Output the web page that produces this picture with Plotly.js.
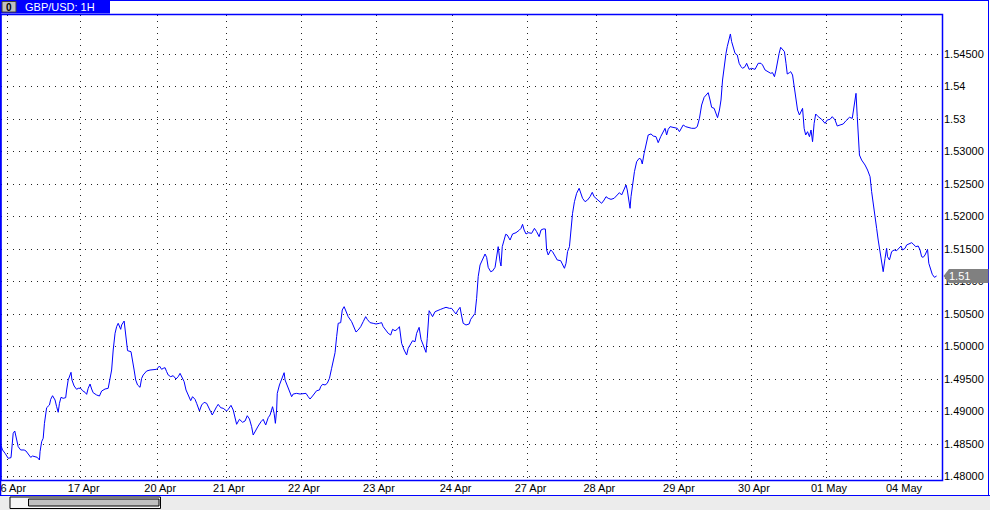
<!DOCTYPE html>
<html>
<head>
<meta charset="utf-8">
<script src="https://cdn.plot.ly/plotly-3.0.1.min.js"></script>
<style>
html,body{margin:0;padding:0;background:#ffffff;overflow:hidden;}
#chart{width:990px;height:510px;}
</style>
</head>
<body>
<div id="chart"></div>
<script>
// ---------- chart text ----------
const symbolTitle = "GBP/USD: 1H";
const lastPriceLabel = "1.51";

// ---------- x axis: day starts (hour index) and labels ----------
const dayTickHours = [2, 25.5, 50, 72, 96, 120, 144.5, 168.5, 190.5, 216, 240, 264, 288];
const dayTickLabels = ["16 Apr", "17 Apr", "20 Apr", "21 Apr", "22 Apr", "23 Apr", "24 Apr",
                       "27 Apr", "28 Apr", "29 Apr", "30 Apr", "01 May", "04 May"];

// ---------- y axis ticks ----------
const priceTickValues = [1.480, 1.485, 1.490, 1.495, 1.500, 1.505, 1.510,
                         1.515, 1.520, 1.525, 1.530, 1.535, 1.540, 1.545];
const priceTickLabels = ["1.48000", "1.48500", "1.49000", "1.49500", "1.50000", "1.50500", "1.51000",
                         "1.51500", "1.52000", "1.52500", "1.53000", "1.53", "1.54", "1.54500"];

// ---------- price series (hour index since start, close) ----------
const hoursPart1 = [0, 0.5, 1.3, 2.3, 3.2, 3.9, 4.4, 5, 5.5, 6.3,
  7.4, 8, 9.1, 9.5, 10.1, 10.9, 11.6, 12.3, 12.5, 13,
  13.5, 13.9, 14.2, 14.6, 15.5, 15.9, 16.5, 17.3, 17.8, 18.3,
  18.7, 19.2, 19.9, 20.7, 21, 21.5, 22.1, 22.4, 22.7, 23.4,
  24.2, 24.7, 25.5, 26.1, 26.9, 27.4, 27.9, 28.5, 29, 29.5,
  30.6, 31.5, 32.2, 33.3, 34.3, 34.9, 35.4, 35.9, 36.5, 37,
  37.5, 38.3, 38.6, 39.4, 39.7, 40.2, 40.5, 41.6, 42.1, 42.6,
  43.1, 43.7, 44.5, 45, 45.5, 46.6, 47.7, 49.3, 49.8, 50.7,
  51.4, 51.9, 52.5, 53, 53.5, 54.3, 55.1, 56, 56.7, 57.3,
  57.8, 58.6, 59.2, 59.9, 60.7, 61.3, 62.1, 62.6, 63.5, 64.2,
  65, 65.8, 66.3, 67.1, 67.6, 68.2, 69, 69.5, 70.3, 71.1,
  72.2, 72.7, 73.6, 74.3, 74.9, 75.4, 76.3, 77.3, 78.1, 78.8,
  79.5, 80.2, 80.7, 81.6, 82.3, 83.2, 83.9, 84.7, 85.5, 86.1,
  86.6, 86.9, 87.4, 87.8, 88.2, 88.4, 89.1, 89.8, 90.6, 90.9,
  91.6, 92.3, 93, 93.5, 94.6, 95.7, 96.7, 97.6, 98.3, 98.9,
  99.7, 100.5, 101, 101.9, 102.3, 102.9, 103.7, 104.4, 105.1];
const pricesPart1 = [1.48474, 1.48408, 1.48357, 1.48280, 1.48290, 1.48665, 1.48700, 1.48588, 1.48459, 1.48408,
  1.48408, 1.48392, 1.48331, 1.48295, 1.48315, 1.48305, 1.48295, 1.48254, 1.48382, 1.48535,
  1.48588, 1.48818, 1.48972, 1.49058, 1.49100, 1.49187, 1.49243, 1.49177, 1.49074, 1.48988,
  1.49126, 1.49218, 1.49203, 1.49213, 1.49331, 1.49485, 1.49562, 1.49603, 1.49485, 1.49392,
  1.49341, 1.49357, 1.49357, 1.49320, 1.49295, 1.49264, 1.49357, 1.49423, 1.49346, 1.49289,
  1.49254, 1.49238, 1.49315, 1.49346, 1.49357, 1.49485, 1.49638, 1.49946, 1.50203, 1.50305,
  1.50357, 1.50264, 1.50331, 1.50392, 1.50254, 1.50049, 1.49936, 1.49920, 1.49741, 1.49638,
  1.49485, 1.49408, 1.49372, 1.49510, 1.49562, 1.49623, 1.49638, 1.49638, 1.49649, 1.49700,
  1.49649, 1.49664, 1.49674, 1.49613, 1.49562, 1.49536, 1.49551, 1.49500, 1.49536, 1.49587,
  1.49526, 1.49459, 1.49331, 1.49254, 1.49167, 1.49228, 1.49187, 1.49126, 1.49008, 1.49100,
  1.49141, 1.49126, 1.49085, 1.48997, 1.48946, 1.49008, 1.49074, 1.49110, 1.49058, 1.49049,
  1.49008, 1.49033, 1.49095, 1.49023, 1.48920, 1.48803, 1.48880, 1.48834, 1.48854, 1.48935,
  1.48885, 1.48766, 1.48638, 1.48726, 1.48777, 1.48843, 1.48880, 1.48792, 1.48905, 1.48946,
  1.49049, 1.49074, 1.48972, 1.48818, 1.49023, 1.49279, 1.49408, 1.49510, 1.49597, 1.49485,
  1.49392, 1.49305, 1.49228, 1.49269, 1.49279, 1.49269, 1.49279, 1.49279, 1.49228, 1.49192,
  1.49238, 1.49279, 1.49320, 1.49331, 1.49382, 1.49418, 1.49408, 1.49434, 1.49510];

const hoursPart2 = [105.8, 106.4, 106.9, 107.4, 107.9, 108.7, 109.2, 109.8, 110.4, 111.1,
  112.2, 112.7, 113.6, 114.3, 115.1, 115.9, 116.7, 117.2, 118.1, 119.1,
  120, 121.1, 121.8, 122.3, 123.2, 123.9, 124.7, 125.3, 126.1, 126.8,
  127.5, 128.2, 129, 129.8, 130.3, 131.1, 131.7, 132.5, 133, 133.8,
  134.4, 135.1, 136, 136.4, 137, 137.5, 138.1, 138.9, 139.9, 140.7,
  141.5, 142.4, 143.5, 144.2, 145, 145.6, 146.1, 146.9, 147.4, 147.9,
  148.8, 149.8, 150.3, 151, 151.7, 152.2, 152.7, 153.3, 154, 154.9,
  155.4, 155.9, 156.7, 157.3, 158.1, 158.6, 159.1, 159.7, 160, 160.4,
  161, 161.5, 162, 162.9, 163.7, 164.8, 165.9, 166.4, 166.9, 167.4,
  168, 168.7, 169.8, 170.7, 171.4, 172.2, 172.8, 173.5, 174.2];
const pricesPart2 = [1.49665, 1.49792, 1.49905, 1.50151, 1.50357, 1.50367, 1.50562, 1.50613, 1.50536, 1.50459,
  1.50382, 1.50331, 1.50223, 1.50254, 1.50305, 1.50382, 1.50459, 1.50418, 1.50367, 1.50357,
  1.50346, 1.50357, 1.50367, 1.50305, 1.50254, 1.50203, 1.50177, 1.50264, 1.50243, 1.50264,
  1.50305, 1.50049, 1.49946, 1.49869, 1.49972, 1.50049, 1.50089, 1.50074, 1.50203, 1.50295,
  1.50110, 1.50023, 1.49910, 1.50126, 1.50551, 1.50510, 1.50459, 1.50536, 1.50551, 1.50572,
  1.50587, 1.50603, 1.50587, 1.50587, 1.50536, 1.50500, 1.50551, 1.50603, 1.50469, 1.50357,
  1.50331, 1.50346, 1.50418, 1.50469, 1.50510, 1.50741, 1.51074, 1.51254, 1.51341, 1.51423,
  1.51372, 1.51218, 1.51151, 1.51162, 1.51218, 1.51408, 1.51536, 1.51305, 1.51238, 1.51536,
  1.51638, 1.51726, 1.51715, 1.51638, 1.51731, 1.51751, 1.51792, 1.51818, 1.51880, 1.51792,
  1.51731, 1.51751, 1.51741, 1.51818, 1.51767, 1.51690, 1.51792, 1.51808, 1.51808];

const hoursPart3 = [174.6, 175.1, 175.9, 176.5, 177.3, 178, 179.1, 179.7, 180.3, 180.8,
  181.3, 181.9, 182.4, 182.9, 183.5, 184.2, 185, 185.5, 186.1, 186.9,
  187.7, 188.5, 189.2, 189.8, 190.6, 191.5, 192.2, 193, 193.6, 194.3,
  195.2, 196.2, 197, 197.9, 198.6, 199.4, 200, 200.4, 200.9, 201.3,
  201.6, 202.1, 202.7, 203.4, 204.2, 204.8, 205.2, 205.8, 206.4, 207.1,
  208, 208.7, 209.6, 210.3, 211.1, 211.9, 212.5, 213, 213.5, 214.1,
  214.9, 215.7, 216.4, 217.1, 217.6, 218.3, 219.1, 219.9, 221, 222.1,
  222.8, 223.5, 224.2, 225, 225.8, 226.3, 226.9, 227.4, 228.2, 228.8,
  229.3, 229.9, 230.4, 230.9, 231.5, 232, 232.4, 233.1, 233.4, 233.8,
  234.3, 234.9, 235.6, 236.2, 236.8, 237.3, 238.1, 238.6, 239.4, 240.2,
  241.3, 241.8, 242.3, 243.2, 243.7, 244.5, 245.5, 246.3, 246.9, 247.5,
  248, 248.4, 249, 249.5, 250.1, 250.7, 251.2, 251.6, 252.3, 252.7,
  253.3, 253.9, 254.4, 254.9, 255.5, 256, 256.5, 257, 257.5, 258.1,
  258.7, 259.2, 259.7, 260.2, 260.7, 261.5, 262.6, 263.7, 264.4, 265.3,
  266, 266.9, 267.6, 268.5, 269.5, 270.4, 271.5, 272.4, 273, 273.3,
  273.6, 274, 274.3, 274.7, 275.4, 276.5, 277.3, 278.1, 278.6, 279.1,
  279.7, 280.2, 280.7, 281.3, 281.8, 282.3, 282.9, 283.4, 283.7, 284.3,
  285, 285.8, 286.6, 287.4, 288, 288.5, 289.3, 289.8, 290.6, 291.4,
  291.9, 292.7, 293.5, 294.1, 294.6, 295.1, 295.7, 296.2, 296.5, 296.9,
  297.5, 298, 298.7, 299.4];
const pricesPart3 = [1.51485, 1.51408, 1.51485, 1.51459, 1.51382, 1.51331, 1.51320, 1.51254, 1.51203, 1.51280,
  1.51459, 1.51536, 1.51843, 1.52049, 1.52228, 1.52357, 1.52434, 1.52357, 1.52280, 1.52228,
  1.52254, 1.52305, 1.52372, 1.52305, 1.52269, 1.52228, 1.52203, 1.52254, 1.52305, 1.52280,
  1.52264, 1.52280, 1.52315, 1.52367, 1.52331, 1.52408, 1.52485, 1.52408, 1.52228, 1.52126,
  1.52305, 1.52485, 1.52690, 1.52843, 1.52895, 1.52880, 1.52808, 1.52972, 1.53100, 1.53254,
  1.53270, 1.53238, 1.53228, 1.53136, 1.53228, 1.53305, 1.53357, 1.53254, 1.53341, 1.53382,
  1.53372, 1.53372, 1.53357, 1.53305, 1.53357, 1.53408, 1.53382, 1.53372, 1.53357, 1.53357,
  1.53382, 1.53510, 1.53715, 1.53833, 1.53885, 1.53905, 1.53792, 1.53680, 1.53664, 1.53587,
  1.53520, 1.53638, 1.53792, 1.54100, 1.54357, 1.54510, 1.54613, 1.54741, 1.54808, 1.54690,
  1.54587, 1.54510, 1.54485, 1.54357, 1.54305, 1.54280, 1.54305, 1.54357, 1.54264, 1.54280,
  1.54264, 1.54305, 1.54357, 1.54357, 1.54331, 1.54254, 1.54228, 1.54203, 1.54213, 1.54151,
  1.54254, 1.54382, 1.54510, 1.54603, 1.54572, 1.54536, 1.54357, 1.54192, 1.54213, 1.54228,
  1.54177, 1.53997, 1.53792, 1.53638, 1.53562, 1.53613, 1.53664, 1.53357, 1.53254, 1.53305,
  1.53228, 1.53331, 1.53151, 1.53433, 1.53577, 1.53536, 1.53495, 1.53433, 1.53485, 1.53495,
  1.53536, 1.53485, 1.53392, 1.53408, 1.53423, 1.53474, 1.53526, 1.53510, 1.53715, 1.53833,
  1.53895, 1.53536, 1.53228, 1.52946, 1.52869, 1.52792, 1.52715, 1.52613, 1.52382, 1.52228,
  1.51997, 1.51818, 1.51638, 1.51459, 1.51254, 1.51151, 1.51357, 1.51510, 1.51382, 1.51331,
  1.51459, 1.51485, 1.51474, 1.51510, 1.51546, 1.51485, 1.51510, 1.51562, 1.51577, 1.51597,
  1.51577, 1.51536, 1.51546, 1.51485, 1.51382, 1.51372, 1.51408, 1.51485, 1.51495, 1.51280,
  1.51177, 1.51111, 1.51064, 1.51085];

const hours = hoursPart1.concat(hoursPart2, hoursPart3);
const prices = pricesPart1.concat(pricesPart2, pricesPart3);
const lastPrice = prices[prices.length - 1];

// ---------- frame geometry helpers (pixel -> paper) ----------
const W = 990, H = 510;
const M = {l: 1, r: 47, t: 15, b: 30};
const PW = W - M.l - M.r, PH = H - M.t - M.b;
const PX = p => (p - M.l) / PW;
const PY = p => (H - M.b - p) / PH;
const BLUE = '#0000ff';

const shapes = [
  // chart window background strips
  {type:'rect', xref:'paper', yref:'paper', x0:PX(0), x1:PX(990), y0:PY(495.5), y1:PY(510), fillcolor:'#ececec', line:{width:0}, layer:'below'},
  // outer window frame
  {type:'line', xref:'paper', yref:'paper', x0:PX(0), x1:PX(988.5), y0:PY(0.5), y1:PY(0.5), line:{color:BLUE, width:1}},
  {type:'line', xref:'paper', yref:'paper', x0:PX(988.5), x1:PX(988.5), y0:PY(0), y1:PY(495.5), line:{color:BLUE, width:1}},
  {type:'line', xref:'paper', yref:'paper', x0:PX(0.5), x1:PX(0.5), y0:PY(0), y1:PY(495.5), line:{color:BLUE, width:1.5}},
  {type:'line', xref:'paper', yref:'paper', x0:PX(0), x1:PX(990), y0:PY(495.5), y1:PY(495.5), line:{color:BLUE, width:1}},
  // plot frame
  {type:'rect', xref:'paper', yref:'paper', x0:PX(1), x1:PX(942.5), y0:PY(14.5), y1:PY(480.5), line:{color:BLUE, width:1.5}, layer:'above'},
  // title tab
  {type:'rect', xref:'paper', yref:'paper', x0:PX(0), x1:PX(110), y0:PY(0), y1:PY(13.5), fillcolor:BLUE, line:{width:0}},
  {type:'rect', xref:'paper', yref:'paper', x0:PX(2), x1:PX(16), y0:PY(1.5), y1:PY(12), fillcolor:'#c0c0c0', line:{color:'#404040', width:1}},
  // scrollbar
  {type:'rect', xref:'paper', yref:'paper', x0:PX(10), x1:PX(160.5), y0:PY(497), y1:PY(508.5), fillcolor:'#f6f6f6', line:{color:'#000', width:1}},
  {type:'rect', xref:'paper', yref:'paper', x0:PX(28.5), x1:PX(159), y0:PY(499), y1:PY(506), fillcolor:'#c0c0c0', line:{color:'#000', width:1}},
  // last price marker
  {type:'path', xref:'paper', yref:'y', xsizemode:'pixel', ysizemode:'pixel', xanchor:1, yanchor:lastPrice,
   path:'M 0.5 0 L 6 7 L 45.5 7 L 45.5 -7 L 6 -7 Z', fillcolor:'#808080', line:{width:0}, layer:'above'}
];

const annotations = [
  {xref:'paper', yref:'paper', x:PX(23), y:PY(7), xanchor:'left', yanchor:'middle', showarrow:false,
   text:symbolTitle, font:{family:'Liberation Sans, Arial, sans-serif', size:11, color:'#ffffff'}},
  {xref:'paper', yref:'paper', x:PX(9), y:PY(7), xanchor:'center', yanchor:'middle', showarrow:false,
   text:'<b>0</b>', font:{family:'Liberation Sans, Arial, sans-serif', size:10, color:'#000000'}},
  {xref:'paper', yref:'y', x:1, y:lastPrice, xanchor:'left', yanchor:'middle', xshift:4, showarrow:false,
   text:lastPriceLabel, font:{family:'Liberation Sans, Arial, sans-serif', size:11, color:'#ffffff'}}
];

const trace = {
  type:'scatter', mode:'lines', x:hours, y:prices,
  line:{color:BLUE, width:1}, hoverinfo:'skip', showlegend:false
};

const layout = {
  width:W, height:H,
  margin:{l:M.l, r:M.r, t:M.t, b:M.b, pad:0},
  paper_bgcolor:'#ffffff', plot_bgcolor:'#ffffff',
  font:{family:'Liberation Sans, Arial, sans-serif', size:11, color:'#000000'},
  showlegend:false,
  xaxis:{
    range:[0, PW / 3.125], tickmode:'array', tickvals:dayTickHours, ticktext:dayTickLabels,
    showgrid:true, gridcolor:'#222222', gridwidth:1, griddash:'1px,5px',
    zeroline:false, showline:false, ticks:'', ticklabelshift:3, ticklabeloverflow:'allow', fixedrange:true
  },
  yaxis:{
    side:'right', range:[1.479462, 1.551], tickmode:'array', tickvals:priceTickValues, ticktext:priceTickLabels,
    showgrid:true, gridcolor:'#222222', gridwidth:1, griddash:'1px,5px',
    zeroline:false, showline:false, ticks:'', fixedrange:true
  },
  shapes:shapes,
  annotations:annotations
};

Plotly.newPlot('chart', [trace], layout, {displayModeBar:false, staticPlot:true});
</script>
</body>
</html>
